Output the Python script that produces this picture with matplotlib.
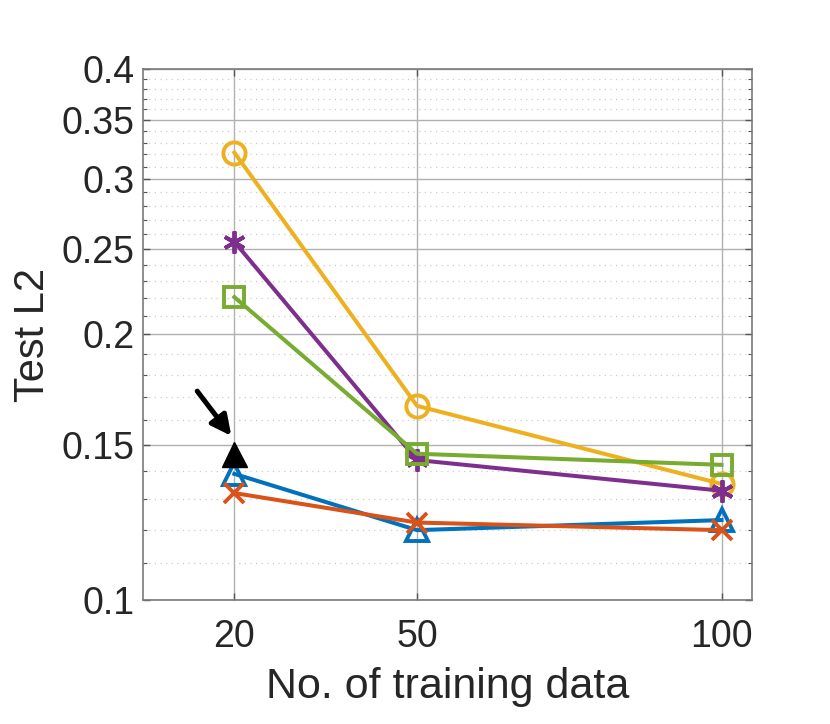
import numpy as np
import matplotlib.pyplot as plt
from matplotlib.ticker import FixedLocator, NullFormatter

plt.rcParams['font.family'] = ['Liberation Sans', 'DejaVu Sans']

n_train = [20, 50, 100]
blue_tri = [0.1390, 0.1200, 0.1232]
orange_x = [0.1322, 0.1224, 0.1200]
yellow_o = [0.3216, 0.1660, 0.1354]
purple_star = [0.2548, 0.1441, 0.1330]
green_sq = [0.2205, 0.1465, 0.1423]
best_x, best_y = 20, 0.1465

yticks = [0.1, 0.15, 0.2, 0.25, 0.3, 0.35, 0.4]
ytick_labels = ['0.1', '0.15', '0.2', '0.25', '0.3', '0.35', '0.4']

fig = plt.figure(figsize=(8.3, 7.24), dpi=100)
ax = fig.add_axes([0.1723, 0.1713, 0.7337, 0.7334])

lw = 2.9
ax.plot(n_train, blue_tri, '-^', color='#0072BD', lw=lw, ms=16, mfc='none', mew=2.8)
ax.plot(n_train, orange_x, '-x', color='#D95319', lw=lw, ms=15, mew=2.8)
ax.plot(n_train, yellow_o, '-o', color='#EDB120', lw=lw, ms=16, mfc='none', mew=2.8)
ax.plot(n_train, purple_star, '-', color='#7E2F8E', lw=lw)
ax.plot(n_train, purple_star, ls='none', marker=(6, 2, 0), color='#7E2F8E', ms=16, mew=2.8)
ax.plot(n_train, green_sq, '-s', color='#77AC30', lw=lw, ms=14, mfc='none', mew=2.8)
ax.plot([best_x], [best_y], '^', color='black', ms=18)
ax.annotate('', xy=(19.5, 0.1535), xytext=(13.9, 0.1725),
            arrowprops=dict(arrowstyle='-|>', color='black', lw=3.6,
                            mutation_scale=30, shrinkA=0, shrinkB=0))

ax.set_yscale('log')
ax.set_xlim(5, 105)
ax.set_ylim(0.1, 0.4)
ax.set_xticks(n_train)
ax.set_xticklabels([str(v) for v in n_train])
ax.yaxis.set_major_locator(FixedLocator(yticks))
ax.set_yticklabels(ytick_labels)
minors = [v / 100 for v in range(11, 40) if v % 5 != 0]
ax.yaxis.set_minor_locator(FixedLocator(minors))
ax.yaxis.set_minor_formatter(NullFormatter())

ax.grid(True, which='major', color='#b0b0b0', lw=1.0, ls='-')
ax.grid(True, which='minor', axis='y', color='#cccccc', lw=0.9, ls=(0, (1, 3.5)))
ax.set_axisbelow(True)

for s in ax.spines.values():
    s.set_color('#7a7a7a')
    s.set_linewidth(1.2)
ax.tick_params(which='both', direction='in', top=True, right=True,
               colors='#555555', labelcolor='#262626', labelsize=27)
ax.tick_params(which='major', length=5, width=1)
ax.tick_params(which='minor', length=3, width=0.8)
ax.tick_params(axis='x', pad=14)
ax.tick_params(axis='y', pad=6)

ax.set_xlabel('No. of training data', fontsize=31, color='#262626', labelpad=8)
ax.set_ylabel('Test L2', fontsize=30, color='#262626', labelpad=6)

fig.savefig('out.png', dpi=100)
